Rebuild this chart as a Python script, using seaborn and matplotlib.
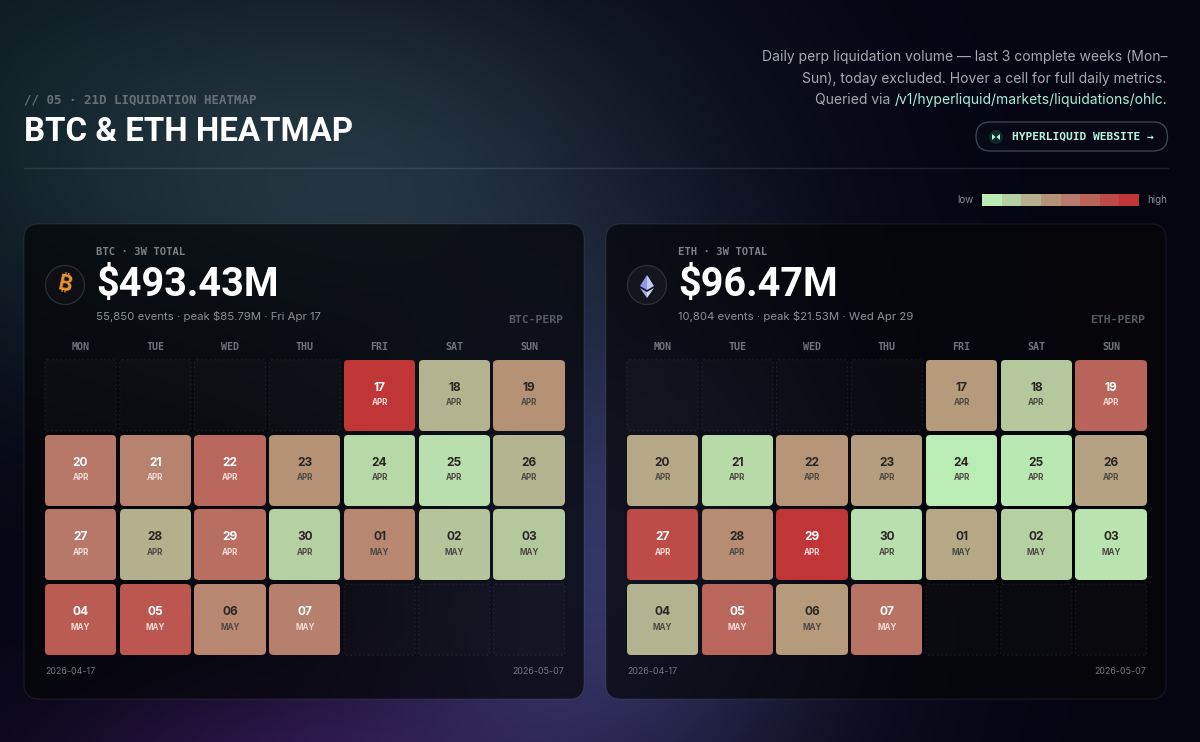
import numpy as np
import pandas as pd
import seaborn as sns
import matplotlib.pyplot as plt
from matplotlib.colors import LinearSegmentedColormap
from matplotlib.patches import Circle, FancyBboxPatch, Polygon
from matplotlib.path import Path

# ── DATA ─────────────────────────────────────────────────────────────────────
weekdays = ["MON", "TUE", "WED", "THU", "FRI", "SAT", "SUN"]
nan = np.nan

# relative liquidation intensity (0 = low, 1 = high)
btc_heat = [
    [nan, nan, nan, nan, 1.00, 0.28, 0.45],
    [0.58, 0.52, 0.68, 0.45, 0.10, 0.07, 0.27],
    [0.58, 0.30, 0.64, 0.14, 0.50, 0.20, 0.18],
    [0.75, 0.78, 0.50, 0.54, nan, nan, nan],
]
eth_heat = [
    [nan, nan, nan, nan, 0.40, 0.18, 0.70],
    [0.33, 0.09, 0.43, 0.38, 0.00, 0.02, 0.36],
    [0.85, 0.47, 1.00, 0.07, 0.33, 0.14, 0.05],
    [0.28, 0.68, 0.40, 0.61, nan, nan, nan],
]
day_labels = [
    ["", "", "", "", "17", "18", "19"],
    ["20", "21", "22", "23", "24", "25", "26"],
    ["27", "28", "29", "30", "01", "02", "03"],
    ["04", "05", "06", "07", "", "", ""],
]
month_labels = [
    ["", "", "", "", "APR", "APR", "APR"],
    ["APR", "APR", "APR", "APR", "APR", "APR", "APR"],
    ["APR", "APR", "APR", "APR", "MAY", "MAY", "MAY"],
    ["MAY", "MAY", "MAY", "MAY", "", "", ""],
]
legend_steps = [0.0, 0.14, 0.29, 0.43, 0.57, 0.71, 0.86, 1.0]

# ── CONFIG ───────────────────────────────────────────────────────────────────
W, H = 1200, 742
MONO = "DejaVu Sans Mono"
SANS = "Inter"
HEAD = "Roboto"
PANEL_OFFSET = 582
PITCH = 74.75
ramp = ["#bbecb6", "#b5d0a2", "#b4b18e", "#b59578", "#b8796a", "#b96258", "#bd4b47", "#c03535"]
heat_cmap = LinearSegmentedColormap.from_list("liq", ramp)

sns.set_theme(style="dark")
plt.rcParams["font.family"] = [SANS, "DejaVu Sans"]


def px_axes(fig, x, y, w, h, zorder=2):
    ax = fig.add_axes([x / W, 1 - (y + h) / H, w / W, h / H], zorder=zorder)
    ax.patch.set_visible(False)
    return ax


def glow(xx, yy, cx, cy, sx, sy):
    return np.exp(-(((xx - cx) / sx) ** 2 + ((yy - cy) / sy) ** 2))


def page_background():
    yy, xx = np.mgrid[0:H, 0:W]
    img = np.zeros((H, W, 3)) + np.array([5, 5, 18], dtype=float)
    for cx, cy, sx, sy, col in [
        (330, 170, 340, 230, (29, 47, 44)),
        (600, 570, 230, 260, (46, 48, 82)),
        (300, 790, 260, 130, (38, 16, 54)),
        (0, 60, 200, 300, (3, 13, 8)),
    ]:
        img += glow(xx, yy, cx, cy, sx, sy)[..., None] * np.array(col, dtype=float)
    return np.clip(img / 255, 0, 1)


def draw_panel(fig, bg, dx, heat, title, total, sub, perp):
    bg.add_patch(FancyBboxPatch((24 + dx, 224), 560, 475, boxstyle="round,pad=0,rounding_size=15",
                                fc=(0.02, 0.025, 0.032, 0.72), ec=(1, 1, 1, 0.07), lw=0.9, zorder=1))
    bg.text(96 + dx, 252, title, family=MONO, weight="bold", fontsize=7.6, color="#7d8186", va="center")
    bg.text(96 + dx, 285, total, family=HEAD, weight="bold", fontsize=28.5, color="#ffffff", va="center")
    bg.text(96 + dx, 316, sub, family=SANS, fontsize=8.2, color="#8d9196", va="center")
    bg.text(563 + dx, 320, perp, family=MONO, weight="bold", fontsize=8.2, color="#565b62", va="center", ha="right")
    bg.text(45 + dx, 672, "2026-04-17", family=SANS, fontsize=6.4, color="#74777d", va="center")
    bg.text(564 + dx, 672, "2026-05-07", family=SANS, fontsize=6.4, color="#74777d", va="center", ha="right")

    values = pd.DataFrame(heat, columns=weekdays)
    ax = px_axes(fig, 43.2 + dx, 358, PITCH * 7, PITCH * 4)
    sns.heatmap(values, ax=ax, cmap=heat_cmap, vmin=0, vmax=1, cbar=False, square=False,
                xticklabels=weekdays, yticklabels=False)
    ax.xaxis.tick_top()
    ax.tick_params(axis="x", length=0, pad=4, labelrotation=0)
    for lbl in ax.get_xticklabels():
        lbl.set(family=MONO, weight="bold", fontsize=7.2, color="#70747a")
    for sp in ax.spines.values():
        sp.set_visible(False)

    # rounded cells: clip the mesh to one rounded box per cell
    gap = 0.024
    boxes = []
    for r in range(values.shape[0]):
        for c in range(values.shape[1]):
            box = FancyBboxPatch((c + gap, r + gap), 1 - 2 * gap, 1 - 2 * gap,
                                 boxstyle="round,pad=0,rounding_size=0.06")
            boxes.append(box.get_path().transformed(box.get_patch_transform()))
            v = values.iat[r, c]
            if np.isnan(v):
                ax.add_patch(FancyBboxPatch((c + gap, r + gap), 1 - 2 * gap, 1 - 2 * gap,
                                            boxstyle="round,pad=0,rounding_size=0.03",
                                            fc=(1, 1, 1, 0.02), ec=(1, 1, 1, 0.08), lw=0.7, ls=(0, (2, 2.5))))
                continue
            dark = v <= 0.50
            ink = "#2a2622" if dark else "#ffffff"
            sub_ink = "#4e4a42" if dark else "#f3dcd6"
            ax.text(c + 0.5, r + 0.40, day_labels[r][c], ha="center", va="center",
                    family=SANS, weight="bold", fontsize=8.6, color=ink)
            ax.text(c + 0.5, r + 0.60, month_labels[r][c], ha="center", va="center",
                    family=SANS, weight="bold", fontsize=5.8, color=sub_ink)
    mesh = ax.collections[0]
    mesh.set_clip_path(Path.make_compound_path(*boxes), ax.transData)
    return ax


# ── FIGURE ───────────────────────────────────────────────────────────────────
fig = plt.figure(figsize=(W / 100, H / 100), dpi=100)
bg = fig.add_axes([0, 0, 1, 1], zorder=0)
bg.imshow(page_background(), extent=(0, W, H, 0), aspect="auto", interpolation="bilinear")
bg.set_xlim(0, W)
bg.set_ylim(H, 0)
bg.axis("off")

# header
bg.text(24, 100, "// 05 · 21D LIQUIDATION HEATMAP", family=MONO, weight="bold", fontsize=8.9, color="#667173", va="center")
bg.text(24, 132, "BTC & ETH HEATMAP", family=HEAD, weight="bold", fontsize=23.8, color="#ffffff", va="center")
bg.plot([24, 1168], [167.5, 167.5], color="#ffffff", alpha=0.10, lw=1)

desc_color = "#a6a9ad"
bg.text(1167, 57, "Daily perp liquidation volume — last 3 complete weeks (Mon–", family=SANS, fontsize=10,
        color=desc_color, ha="right", va="center")
bg.text(1167, 78.5, "Sun), today excluded. Hover a cell for full daily metrics.", family=SANS, fontsize=10,
        color=desc_color, ha="right", va="center")
link = bg.text(1167, 100, "/v1/hyperliquid/markets/liquidations/ohlc.", family=SANS, fontsize=10,
               color="#a9eedb", ha="right", va="center")
fig.canvas.draw()
link_left = link.get_window_extent().x0
bg.text(link_left - 4, 100, "Queried via", family=SANS, fontsize=10, color=desc_color, ha="right", va="center")

# website pill
bg.add_patch(FancyBboxPatch((976, 122), 191.5, 29, boxstyle="round,pad=0,rounding_size=14.5",
                            fc=(1, 1, 1, 0.015), ec="#3f4957", lw=0.9))
bg.add_patch(Circle((996, 137), 7, fc="#0f2a28", ec="none"))
bg.add_patch(Polygon([(992, 134), (995.5, 137), (992, 140)], fc="#b6f5e0", ec="none"))
bg.add_patch(Polygon([(1000, 134), (996.5, 137), (1000, 140)], fc="#b6f5e0", ec="none"))
bg.text(1012, 137, "HYPERLIQUID WEBSITE →", family=MONO, weight="bold", fontsize=8.1,
        color="#b6f5e0", va="center")

# colour legend
bg.text(974, 200, "low", family=SANS, fontsize=7, color="#8b8e93", ha="right", va="center")
bg.text(1147, 200, "high", family=SANS, fontsize=7, color="#8b8e93", va="center")
leg = px_axes(fig, 982, 194, 157, 12)
sns.heatmap([legend_steps], ax=leg, cmap=heat_cmap, vmin=0, vmax=1, cbar=False, xticklabels=False, yticklabels=False)

# panels
draw_panel(fig, bg, 0, btc_heat, "BTC · 3W TOTAL", "$493.43M", "55,850 events · peak $85.79M · Fri Apr 17", "BTC-PERP")
draw_panel(fig, bg, PANEL_OFFSET, eth_heat, "ETH · 3W TOTAL", "$96.47M", "10,804 events · peak $21.53M · Wed Apr 29", "ETH-PERP")

# coin icons
bg.add_patch(Circle((65, 285), 19.5, fc="#0d0f14", ec="#2b2e33", lw=0.9, zorder=3))
bg.text(65, 285, "₿", family=["Inter", "Noto Sans", "Open Sans", "Roboto", "Lato"], weight="bold", fontsize=15,
        color="#f0952f", ha="center", va="center", rotation=-12, zorder=4)
bg.add_patch(Circle((647, 285), 19.5, fc="#14161f", ec="#2e3038", lw=0.9, zorder=3))
bg.add_patch(Polygon([(647, 275), (640, 286), (647, 290)], fc="#8f96ec", ec="none", zorder=4))
bg.add_patch(Polygon([(647, 275), (654, 286), (647, 290)], fc="#c4c8f6", ec="none", zorder=4))
bg.add_patch(Polygon([(640, 288), (647, 298), (647, 292)], fc="#a7adf0", ec="none", zorder=4))
bg.add_patch(Polygon([(654, 288), (647, 298), (647, 292)], fc="#d8daf9", ec="none", zorder=4))

fig.savefig("out.png", dpi=100, facecolor="#05050f")
plt.close(fig)
